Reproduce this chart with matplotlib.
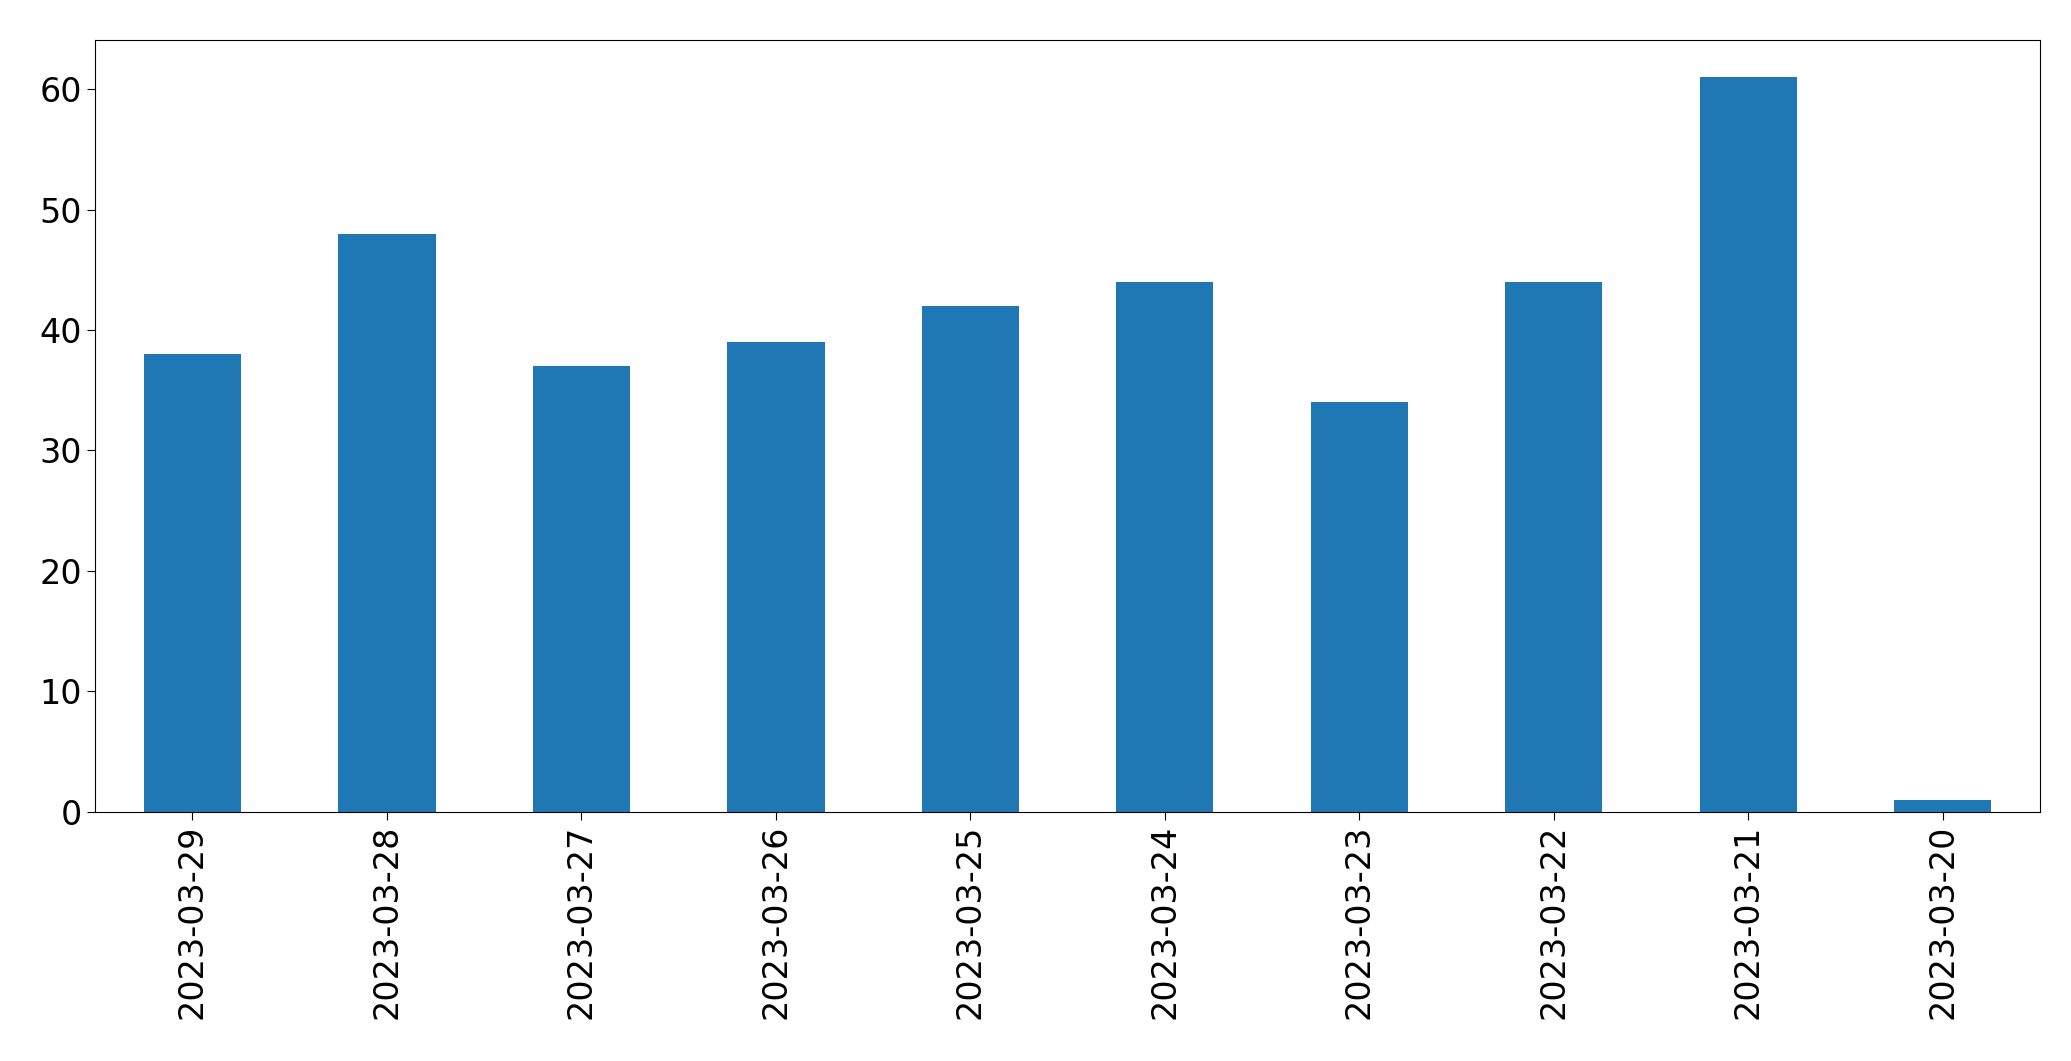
import matplotlib.pyplot as plt
import numpy as np

dates = ['2023-03-29', '2023-03-28', '2023-03-27', '2023-03-26', '2023-03-25',
         '2023-03-24', '2023-03-23', '2023-03-22', '2023-03-21', '2023-03-20']
counts = [38, 48, 37, 39, 42, 44, 34, 44, 61, 1]

fig = plt.figure(figsize=(20.71, 10.61), dpi=100)
ax = fig.add_axes([0.046, 0.235, 0.939, 0.727])
x = np.arange(len(dates))
ax.bar(x, counts, width=0.5, color='#1f77b4')
ax.set_xlim(-0.5, len(dates) - 0.5)
ax.set_xticks(x)
ax.set_xticklabels(dates, rotation=90, fontsize=24)
ax.tick_params(axis='y', labelsize=24)
ax.tick_params(length=6)

plt.savefig('out.png', dpi=100)
plt.close()
